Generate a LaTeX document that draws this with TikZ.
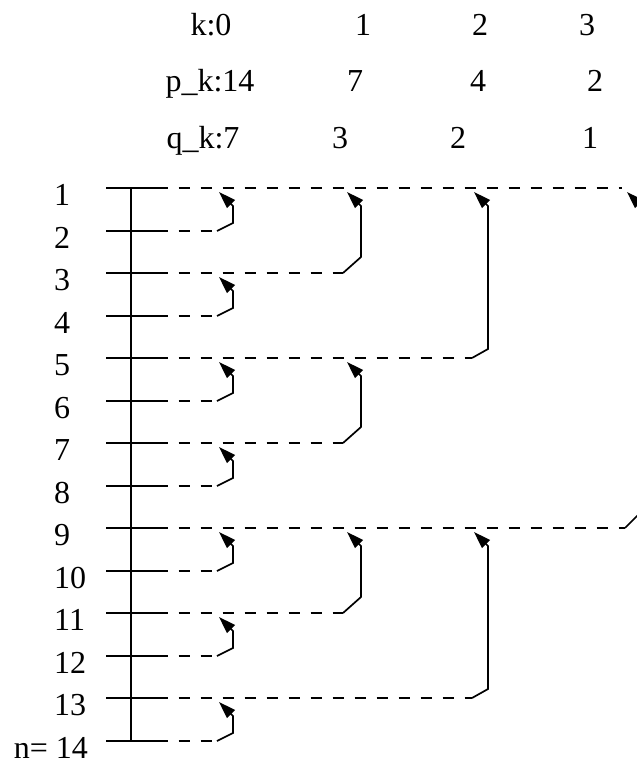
\documentclass[tikz,border=0pt]{standalone}
\usepackage{fontspec}
\setmainfont{Liberation Serif}
\usetikzlibrary{arrows.meta}
\begin{document}
\begin{tikzpicture}[x=1pt,y=-1pt,
  lbl/.style={inner sep=0pt, font=\fontsize{32}{38}\selectfont},
  rowline/.style={line width=1.7pt},
  dashline/.style={line width=1.7pt, dash pattern=on 11.5pt off 10.5pt, dash phase=11.5pt},
  conn/.style={line width=1.7pt, -{Triangle[length=17pt,width=11pt]}},
]
\useasboundingbox (0,0) rectangle (637,763);
% header
\node[lbl, anchor=base] (k0) at (211,35) {k:0};
\node[lbl, anchor=base] (k1) at (363,35) {1};
\node[lbl, anchor=base] (k2) at (480,35) {2};
\node[lbl, anchor=base] (k3) at (587,35) {3};
\node[lbl, anchor=base] (p0) at (210,91) {p\_k:14};
\node[lbl, anchor=base] (p1) at (355,91) {7};
\node[lbl, anchor=base] (p2) at (478,91) {4};
\node[lbl, anchor=base] (p3) at (595,91) {2};
\node[lbl, anchor=base] (q0) at (203,148) {q\_k:7};
\node[lbl, anchor=base] (q1) at (340,148) {3};
\node[lbl, anchor=base] (q2) at (458,148) {2};
\node[lbl, anchor=base] (q3) at (590,148) {1};
% rows
\foreach \i/\xe in {1/622,2/217,3/343,4/217,5/472,6/217,7/343,8/217,9/625,10/217,11/343,12/217,13/472,14/217} {
  \pgfmathsetmacro\y{round(188+(\i-1)*42.54)}
  \coordinate (a\i) at (106,\y);
  \coordinate (m\i) at (168,\y);
  \coordinate (e\i) at (\xe,\y);
  \coordinate (t\i) at (131,\y+18);
  \draw[rowline] (a\i) -- (m\i);
  \draw[dashline] (m\i) -- (e\i);
}
\foreach \i in {1,...,13} {
  \pgfmathsetmacro\y{round(188+(\i-1)*42.54)}
  \node[lbl, anchor=base west] (r\i) at (54,\y+17) {\i};
}
\node[lbl, anchor=base east] (r14) at (88,741+17) {n= 14};
% trunk
\draw[rowline] (131,188) -- (131,741);
% connectors
\begin{scope}
\clip (0,0) rectangle (637,763);
\foreach \s/\t/\dx/\d in {2/1/16/8,4/3/16/8,6/5/16/8,8/7/16/8,10/9/16/8,12/11/16/8,14/13/16/8,
                          3/1/18/16,7/5/18/16,11/9/18/16,
                          5/1/16/9,13/9/16/9,
                          9/1/16/16} {
  \draw[conn] (e\s) -- ++(\dx,-\d) coordinate (v) -- (v |- t\t) -- ++(-14,-14);
}
\end{scope}
\end{tikzpicture}
\end{document}
